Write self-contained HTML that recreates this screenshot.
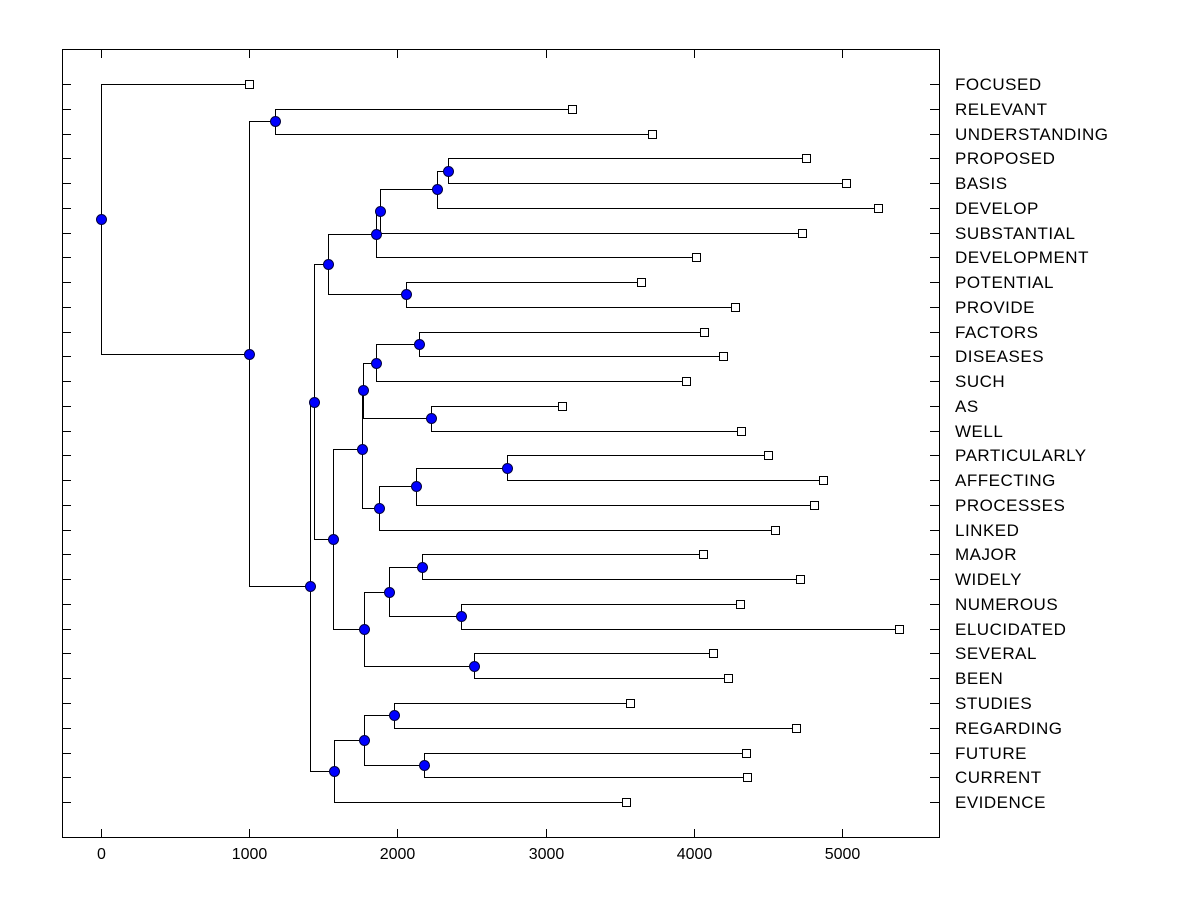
<!DOCTYPE html>
<html><head><meta charset="utf-8"><style>
html,body{margin:0;padding:0;background:#fff;}
svg text{font-family:"Liberation Sans",Arial,sans-serif;}
</style></head><body>
<svg id="chart" width="1200" height="900" xmlns="http://www.w3.org/2000/svg">
<rect x="0" y="0" width="1200" height="900" fill="#fff"/>
<g id="tree"></g>
<rect x="62.5" y="49.5" width="877" height="788" fill="none" stroke="#000" stroke-width="1"/>
<g id="axes"></g>
</svg>
<script>
const leafLabels = ["FOCUSED","RELEVANT","UNDERSTANDING","PROPOSED","BASIS","DEVELOP","SUBSTANTIAL","DEVELOPMENT","POTENTIAL","PROVIDE","FACTORS","DISEASES","SUCH","AS","WELL","PARTICULARLY","AFFECTING","PROCESSES","LINKED","MAJOR","WIDELY","NUMEROUS","ELUCIDATED","SEVERAL","BEEN","STUDIES","REGARDING","FUTURE","CURRENT","EVIDENCE"];
const leafValues = [1000,3175,3715,4757,5027,5243,4730,4015,3644,4278,4069,4197,3947,3111,4318,4501,4872,4811,4548,4062,4717,4312,5385,4130,4231,3569,4690,4352,4359,3542];
const nodeNames = ["K","J","H2","H","I","F","R","P","Q","N","T","S","O","L","W","X","U","V","M","G","D","Z","AA","Y","E","C","B","A","root"];
const nodeValues = [2341,2267,1883,1856,2058,1532,2146,1856,2227,1765,2740,2125,1876,1761,2166,2429,1943,2517,1775,1565,1437,1977,2180,1775,1572,1410,1174,1000,0];
const nodeChildA = ["PROPOSED","K","J","H2","POTENTIAL","H","FACTORS","R","AS","P","PARTICULARLY","T","S","N","MAJOR","NUMEROUS","W","SEVERAL","U","L","F","STUDIES","FUTURE","Z","Y","D","RELEVANT","B","FOCUSED"];
const nodeChildB = ["BASIS","DEVELOP","SUBSTANTIAL","DEVELOPMENT","PROVIDE","I","DISEASES","SUCH","WELL","Q","AFFECTING","PROCESSES","LINKED","O","WIDELY","ELUCIDATED","X","BEEN","V","M","G","REGARDING","CURRENT","AA","EVIDENCE","E","UNDERSTANDING","C","A"];
const xTicks = [0,1000,2000,3000,4000,5000];

const NS="http://www.w3.org/2000/svg";
const xs = v => 101 + v*0.1482;
const rowY = i => 84 + i*24.76;
const tree=document.getElementById('tree'), axes=document.getElementById('axes');
function mk(tag,attrs,parent){const e=document.createElementNS(NS,tag);for(const k in attrs)e.setAttribute(k,attrs[k]);parent.appendChild(e);return e;}

const pos={};
leafLabels.forEach((l,i)=>{pos[l]={x:xs(leafValues[i]),y:rowY(i)};});
nodeNames.forEach((n,i)=>{
  const a=pos[nodeChildA[i]], b=pos[nodeChildB[i]];
  pos[n]={x:xs(nodeValues[i]),y:(a.y+b.y)/2};
});
nodeNames.forEach((n,i)=>{
  const p=pos[n], a=pos[nodeChildA[i]], b=pos[nodeChildB[i]];
  const x=Math.round(p.x)+0.5;
  const d=`M${Math.round(a.x)} ${Math.round(a.y)+0.5}H${x}V${Math.round(b.y)+0.5}H${Math.round(b.x)}`;
  const path=mk('path',{d:d,fill:'none',stroke:'#000','stroke-width':1},tree);
  
  
});
nodeNames.forEach(n=>{
  const p=pos[n];
  const c=mk('circle',{cx:Math.round(p.x)+0.5,cy:Math.round(p.y)+0.5,r:5,fill:'#0000ff',stroke:'#000040','stroke-width':1},tree);
  
  
});
leafLabels.forEach((l,i)=>{
  const p=pos[l];
  const r=mk('rect',{x:Math.round(p.x)-3.5,y:Math.round(p.y)-3.5,width:8,height:8,fill:'#fff',stroke:'#000','stroke-width':1},tree);
  
  
  const t=mk('text',{x:955,y:Math.round(p.y)+6,'font-size':17,'letter-spacing':0.5,fill:'#000'},axes);
  t.textContent=l;
  
  
  const tk=mk('path',{d:`M62 ${Math.round(p.y)+0.5}H71M930 ${Math.round(p.y)+0.5}H939`,stroke:'#000','stroke-width':1},axes);
  
  
});
xTicks.forEach(v=>{
  const x=Math.round(xs(v))+0.5;
  const tk=mk('path',{d:`M${x} 829V837M${x} 50V58`,stroke:'#000','stroke-width':1},axes);
  
  
  const t=mk('text',{x:x,y:859,'font-size':16,'text-anchor':'middle',fill:'#000'},axes);
  t.textContent=v;
  
  
});
</script>
</body></html>
